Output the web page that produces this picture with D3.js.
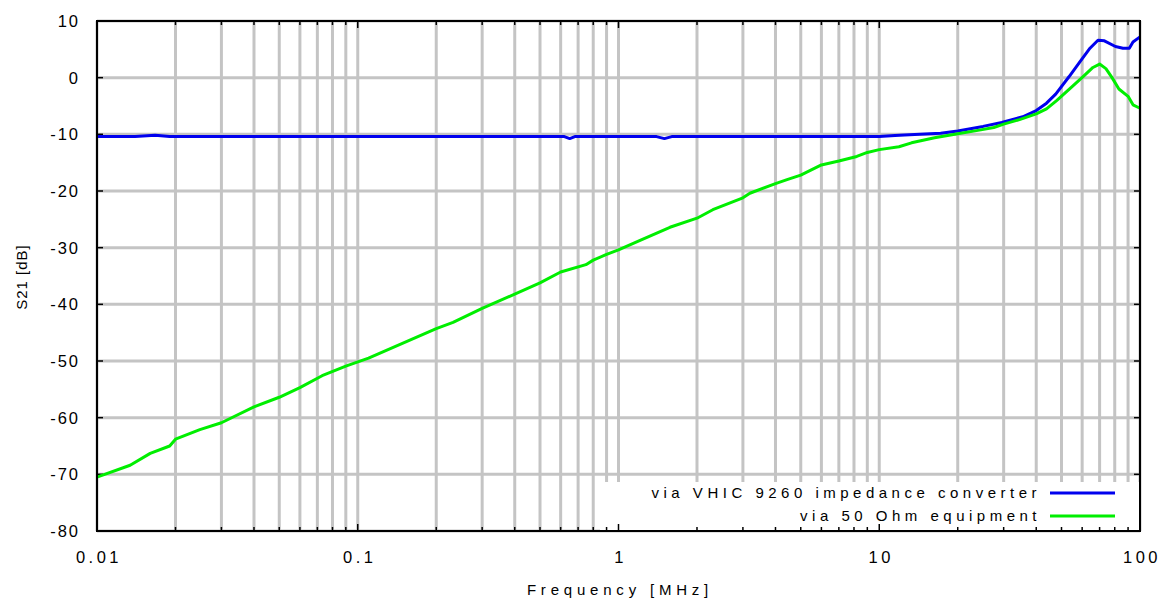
<!DOCTYPE html>
<html>
<head>
<meta charset="utf-8">
<script src="https://cdn.jsdelivr.net/npm/d3@7"></script>
<style>
  html, body { margin: 0; padding: 0; background: #fff; }
  svg { display: block; font-family: "Liberation Sans", Arial, sans-serif; }
</style>
</head>
<body>
<svg id="chart" width="1163" height="601"></svg>
<script>
// frequency in MHz, S21 in dB
const vhicFreq = [0.01, 0.014, 0.0167, 0.019, 0.1, 0.62, 0.65, 0.68, 1.4, 1.5, 1.6, 10, 11.5, 12.5, 14.3, 17.2, 20, 25, 29.5, 35.5, 40, 43.8, 47.5, 53.5, 58.8, 64.3, 69, 73, 80.5, 86, 91, 94, 100];
const vhicDb   = [-10.4, -10.4, -10.15, -10.4, -10.4, -10.4, -10.75, -10.4, -10.4, -10.75, -10.4, -10.4, -10.2, -10.1, -10.0, -9.8, -9.4, -8.6, -7.9, -6.9, -5.8, -4.5, -2.9, 0.2, 2.8, 5.2, 6.6, 6.5, 5.5, 5.2, 5.2, 6.3, 7.2];

const ohmFreq = [0.01, 0.0134, 0.016, 0.019, 0.02, 0.0248, 0.03, 0.04, 0.05, 0.06, 0.073, 0.09, 0.11, 0.2, 0.232, 0.3, 0.4, 0.5, 0.6, 0.75, 0.8, 0.9, 1.0, 1.21, 1.575, 2.0, 2.3, 3.0, 3.19, 4.0, 4.43, 5.0, 6.0, 7.0, 8.2, 9.0, 10, 11.9, 13.3, 16.3, 20, 23.9, 27.5, 30, 34.5, 40, 43.8, 48, 54.5, 60.5, 66, 70, 74, 78, 83, 90, 94, 100];
const ohmDb   = [-70.5, -68.4, -66.3, -65.0, -63.8, -62.1, -60.9, -58.1, -56.4, -54.7, -52.6, -50.9, -49.5, -44.3, -43.2, -40.7, -38.2, -36.2, -34.3, -33.0, -32.2, -31.2, -30.4, -28.7, -26.4, -24.8, -23.3, -21.2, -20.4, -18.7, -18.0, -17.2, -15.4, -14.7, -13.9, -13.2, -12.7, -12.2, -11.5, -10.6, -9.9, -9.3, -8.8, -8.2, -7.4, -6.4, -5.5, -4.0, -1.7, 0.2, 1.8, 2.4, 1.6, 0.05, -2.0, -3.3, -4.8, -5.4];

const xTicks = [0.01, 0.1, 1, 10, 100];
const xTickLabels = ["0.01", "0.1", "1", "10", "100"];
const yTicks = [10, 0, -10, -20, -30, -40, -50, -60, -70, -80];

const seriesNames = ["via VHIC 9260 impedance converter", "via 50 Ohm equipment"];
const seriesColors = ["#0000ee", "#00ee00"];

const W = 1163, H = 601;
const m = { left: 97, right: 23, top: 21, bottom: 70 };
const pw = W - m.left - m.right, ph = H - m.top - m.bottom;

const svg = d3.select("#chart");
const g = svg.append("g").attr("transform", `translate(${m.left},${m.top})`);

const x = d3.scaleLog().domain([0.01, 100]).range([0, pw]);
const y = d3.scaleLinear().domain([-80, 10]).range([ph, 0]);

// every 1..9 step of each decade
const minor = [];
for (let e = -2; e < 2; e++) for (let k = 1; k <= 9; k++) minor.push(k * Math.pow(10, e));
minor.push(100);

const grid = g.append("g").attr("stroke", "#c4c4c4").attr("stroke-width", 3);
grid.selectAll("line.v").data(minor).join("line")
  .attr("x1", d => x(d)).attr("x2", d => x(d)).attr("y1", 0).attr("y2", ph);
grid.selectAll("line.h").data(yTicks).join("line")
  .attr("x1", 0).attr("x2", pw).attr("y1", d => y(d)).attr("y2", d => y(d));

// legend box hides grid behind it
const legX = 503, legY = 461;
g.append("rect").attr("x", legX).attr("y", legY)
  .attr("width", pw - legX).attr("height", ph - legY).attr("fill", "#fff");

// ticks inside the frame
const tk = g.append("g").attr("stroke", "#000").attr("stroke-width", 1.5);
minor.forEach(d => {
  const len = xTicks.includes(d) ? 7 : 4;
  tk.append("line").attr("x1", x(d)).attr("x2", x(d)).attr("y1", ph).attr("y2", ph - len);
  tk.append("line").attr("x1", x(d)).attr("x2", x(d)).attr("y1", 0).attr("y2", len);
});
yTicks.forEach(d => {
  tk.append("line").attr("x1", 0).attr("x2", 6).attr("y1", y(d)).attr("y2", y(d));
  tk.append("line").attr("x1", pw).attr("x2", pw - 6).attr("y1", y(d)).attr("y2", y(d));
});

const line = d3.line().x(d => x(d[0])).y(d => y(d[1]));
const series = [d3.zip(vhicFreq, vhicDb), d3.zip(ohmFreq, ohmDb)];
g.selectAll("path.s").data(series).join("path")
  .attr("fill", "none")
  .attr("stroke", (d, i) => seriesColors[i])
  .attr("stroke-width", 3)
  .attr("stroke-linejoin", "round")
  .attr("d", line);

g.append("rect").attr("width", pw).attr("height", ph)
  .attr("fill", "none").attr("stroke", "#000").attr("stroke-width", 2);

// tick labels
g.selectAll("text.yl").data(yTicks).join("text")
  .attr("x", -17).attr("y", d => y(d)).attr("dy", "0.36em")
  .attr("text-anchor", "end").attr("font-size", 16.5).attr("letter-spacing", 2)
  .text(d => d);
g.selectAll("text.xl").data(xTicks).join("text")
  .attr("x", d => x(d) + 2).attr("y", ph + 32)
  .attr("text-anchor", "middle").attr("font-size", 16.5).attr("letter-spacing", 3.5)
  .text((d, i) => xTickLabels[i]);

svg.append("text").attr("x", 620).attr("y", 595)
  .attr("text-anchor", "middle").attr("font-size", 15).attr("letter-spacing", 4.8)
  .text("Frequency [MHz]");
svg.append("text").attr("transform", "translate(27,277) rotate(-90)")
  .attr("text-anchor", "middle").attr("font-size", 15).attr("letter-spacing", 1)
  .text("S21 [dB]");

// legend
const leg = g.append("g");
seriesNames.forEach((name, i) => {
  const ly = 472 + i * 23;
  leg.append("text").attr("x", 944).attr("y", ly).attr("dy", "0.36em")
    .attr("text-anchor", "end").attr("font-size", 15).attr("letter-spacing", 4.5)
    .text(name);
  leg.append("line").attr("x1", 953).attr("x2", 1018).attr("y1", ly).attr("y2", ly)
    .attr("stroke", seriesColors[i]).attr("stroke-width", 3);
});
</script>
</body>
</html>
